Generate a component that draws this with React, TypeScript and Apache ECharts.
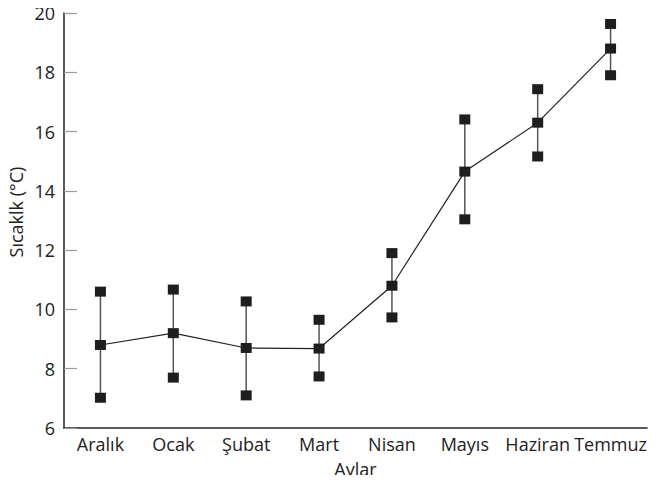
import React, { useEffect, useRef } from "react";
import * as echarts from "echarts";

const months = ["Aralık", "Ocak", "Şubat", "Mart", "Nisan", "Mayıs", "Haziran", "Temmuz"];
const meanValues = [8.8, 9.2, 8.7, 8.68, 10.8, 14.65, 16.3, 18.8];
const upperValues = [10.6, 10.67, 10.27, 9.65, 11.9, 16.41, 17.43, 19.63];
const lowerValues = [7.02, 7.7, 7.1, 7.74, 9.73, 13.04, 15.16, 17.9];
const yTicks = { min: 6, max: 20, interval: 2 };
const xTitle = "Aylar";
const yTitle = "Sıcaklk (°C)";

const FONT = "Open Sans";

export default function App() {
  const ref = useRef<HTMLDivElement>(null);
  useEffect(() => {
    if (!ref.current) return;
    const chart = echarts.init(ref.current, null, { renderer: "svg" });
    const errorData = months.map((_, i) => [i, lowerValues[i], upperValues[i]]);
    const sq = { color: "#1e1e1e", opacity: 1 };
    chart.setOption({
      animation: false,
      backgroundColor: "#ffffff",
      grid: { left: 64, top: 13, right: 9, bottom: 53, containLabel: false },
      graphic: [
        {
          type: "text",
          x: 16,
          y: 212,
          rotation: Math.PI / 2,
          style: {
            text: yTitle,
            fontFamily: FONT,
            fontSize: 18,
            fill: "#222",
            align: "center",
            verticalAlign: "middle",
          },
        },
      ],
      xAxis: {
        type: "category",
        data: months,
        boundaryGap: true,
        name: xTitle,
        nameLocation: "middle",
        nameGap: 32,
        nameTextStyle: { fontFamily: FONT, fontSize: 18, color: "#222" },
        axisLine: { lineStyle: { color: "#222", width: 1.5 } },
        axisTick: { alignWithLabel: true, inside: true, length: 13, lineStyle: { color: "#999", width: 1.2 } },
        axisLabel: { interval: 0, fontFamily: FONT, fontSize: 18, color: "#222", margin: 7 },
        splitLine: { show: false },
      },
      yAxis: {
        type: "value",
        min: yTicks.min,
        max: yTicks.max,
        interval: yTicks.interval,
        axisLine: { show: true, lineStyle: { color: "#222", width: 1.5 } },
        axisTick: { show: true, inside: true, length: 13, lineStyle: { color: "#999", width: 1.2 } },
        axisLabel: { fontFamily: FONT, fontSize: 18, color: "#222", margin: 9 },
        splitLine: { show: false },
      },
      series: [
        {
          type: "custom",
          z: 1,
          data: errorData,
          renderItem: (params: any, api: any) => {
            const x = api.value(0);
            const lo = api.coord([x, api.value(1)]);
            const hi = api.coord([x, api.value(2)]);
            return {
              type: "line",
              shape: { x1: lo[0], y1: lo[1], x2: hi[0], y2: hi[1] },
              style: { stroke: "#555", lineWidth: 1.5 },
            };
          },
        },
        {
          type: "scatter",
          z: 3,
          symbol: "rect",
          symbolSize: [11, 10],
          itemStyle: sq,
          data: upperValues,
        },
        {
          type: "scatter",
          z: 3,
          symbol: "rect",
          symbolSize: [11, 10],
          itemStyle: sq,
          data: lowerValues,
        },
        {
          type: "line",
          z: 2,
          symbol: "rect",
          symbolSize: [11, 10],
          showSymbol: true,
          itemStyle: sq,
          lineStyle: { color: "#222", width: 1.2 },
          data: meanValues,
        },
      ],
    });
    return () => chart.dispose();
  }, []);
  return <div ref={ref} style={{ width: 656, height: 483, margin: -8 }} />;
}
